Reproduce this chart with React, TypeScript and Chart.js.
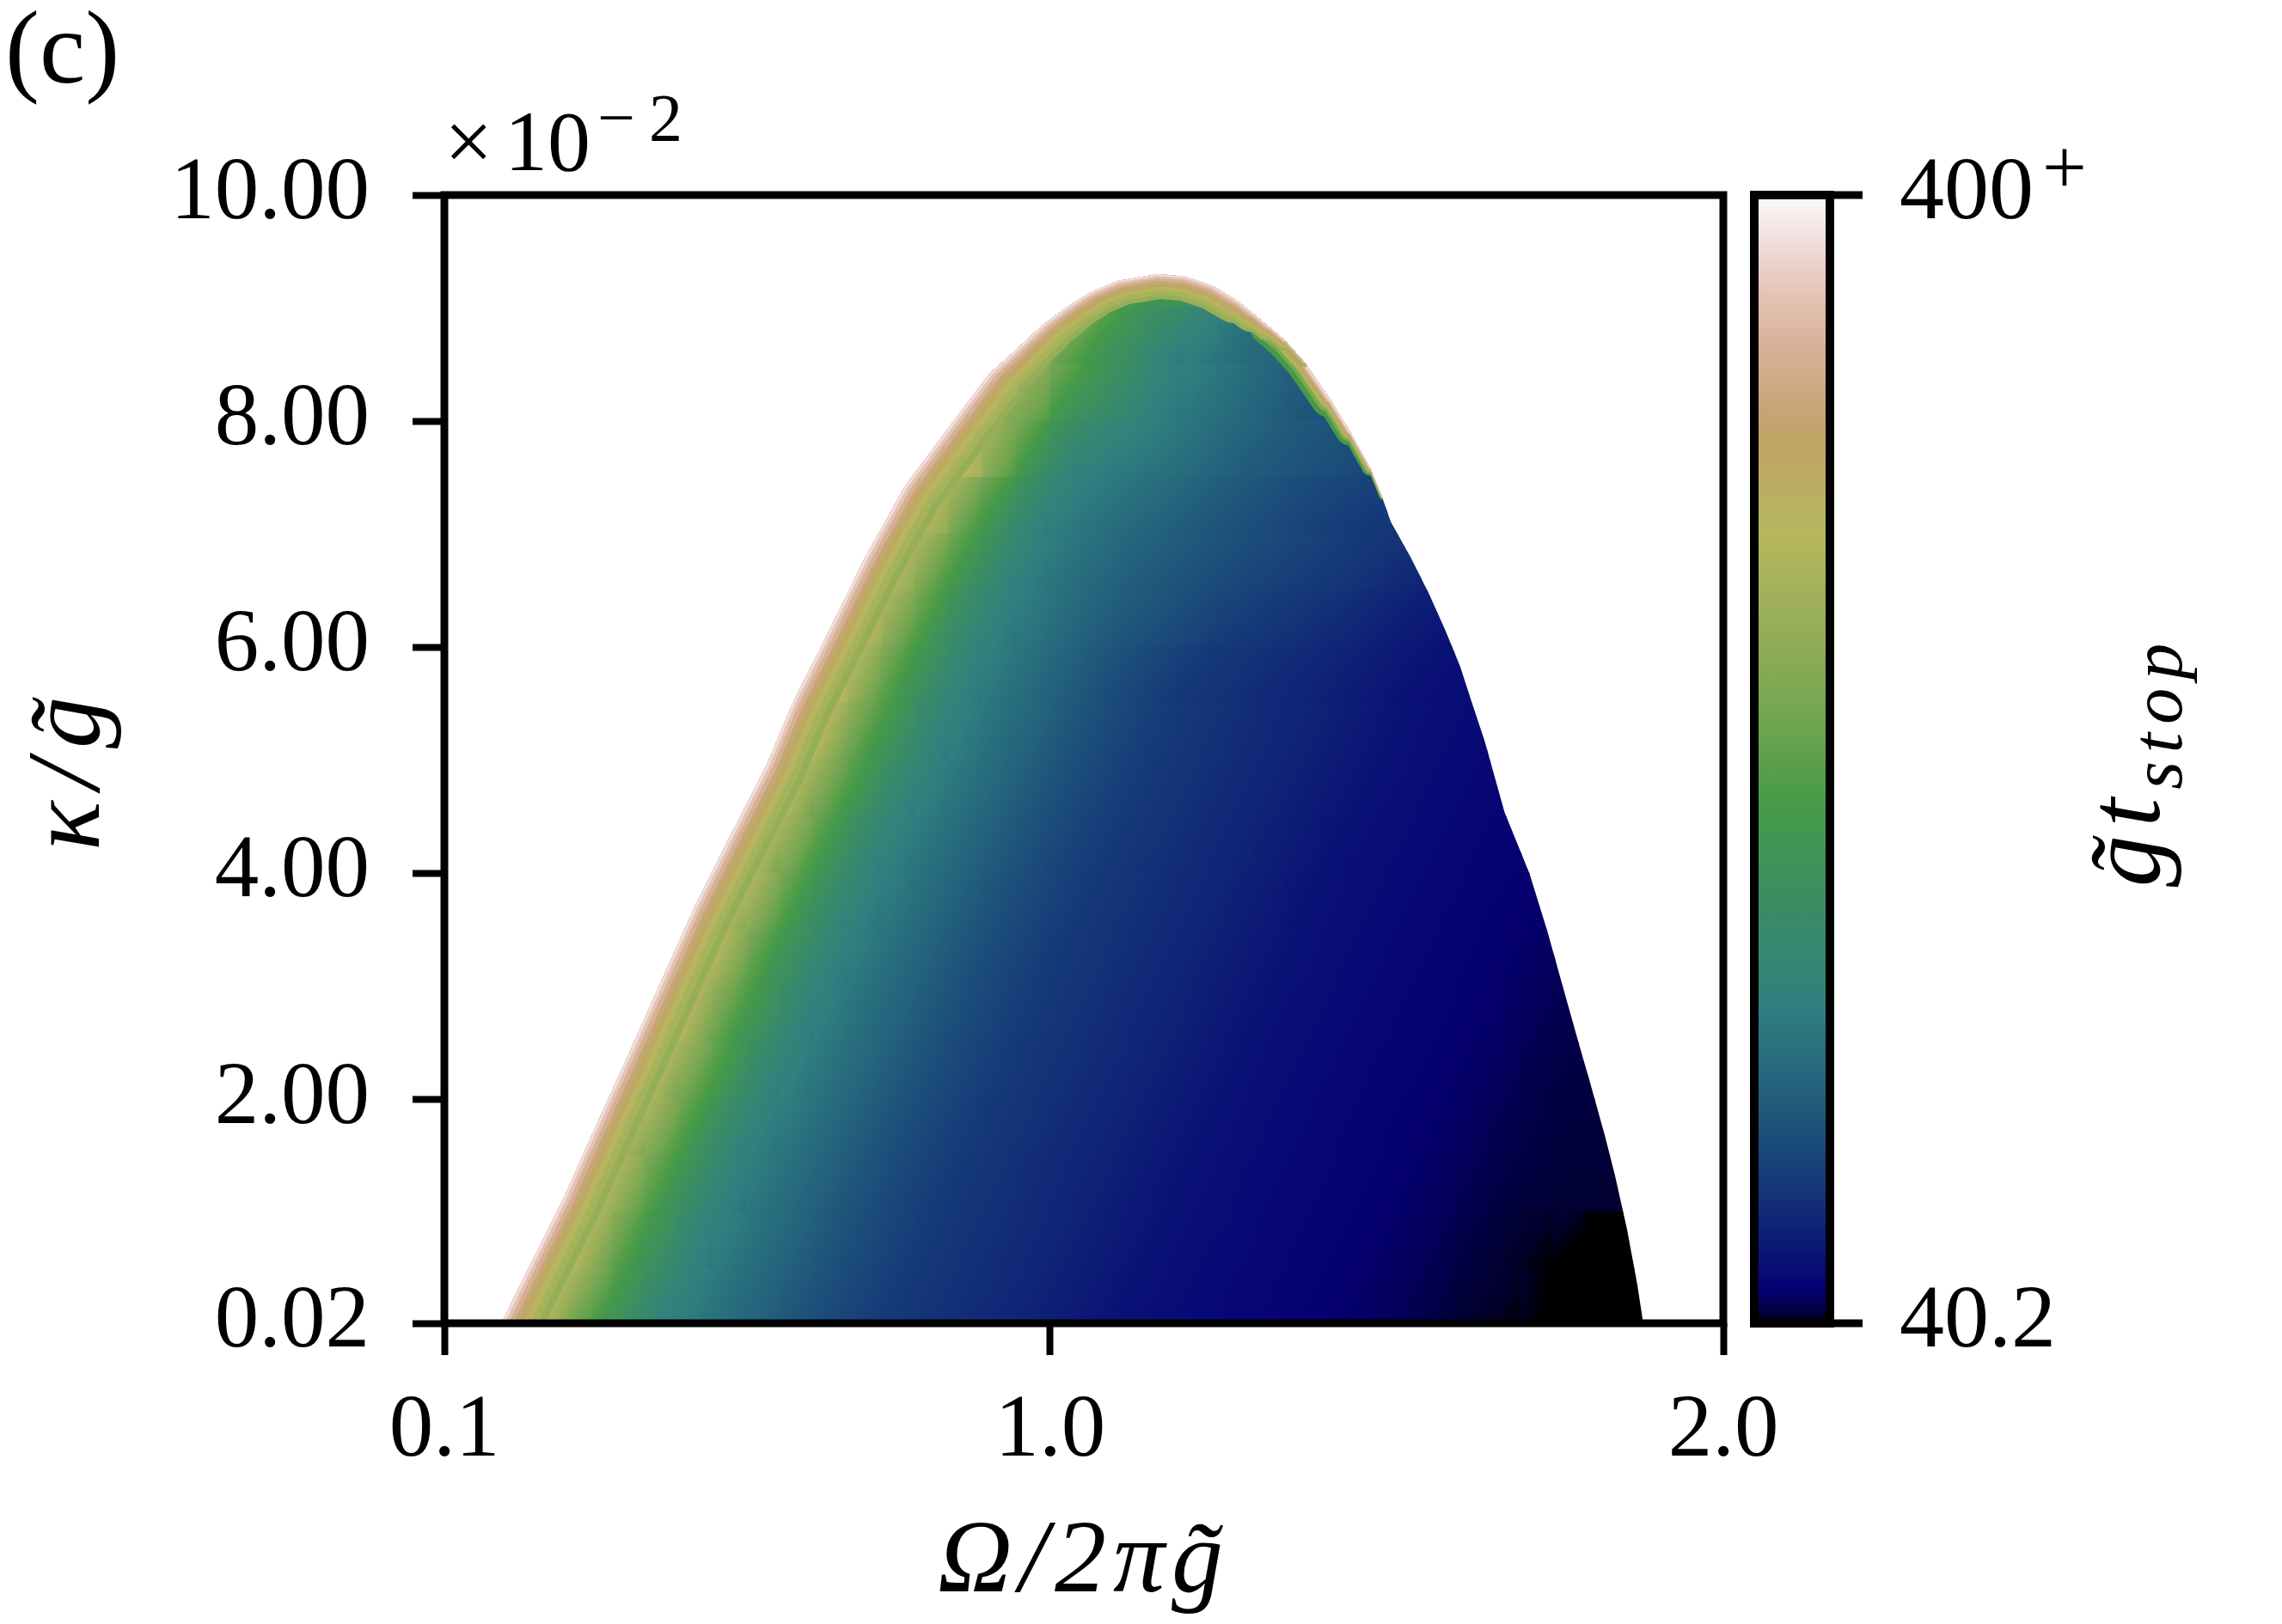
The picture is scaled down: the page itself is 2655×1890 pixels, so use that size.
import React, { useEffect, useRef } from 'react';
import { Chart, registerables } from 'chart.js';

Chart.register(...registerables);

// ---------------- data ----------------
// Ω/2πg̃ cell centres (cells are 0.05 wide)
const omegaCenters = [
  0.125, 0.175, 0.225, 0.275, 0.325, 0.375, 0.425, 0.475, 0.525, 0.575,
  0.625, 0.675, 0.725, 0.775, 0.825, 0.875, 0.925, 0.975, 1.025, 1.075,
  1.125, 1.175, 1.225, 1.275, 1.325, 1.375, 1.425, 1.475, 1.525, 1.575,
  1.625, 1.675, 1.725, 1.775, 1.825, 1.875, 1.925, 1.975,
];
// κ/g̃ (×10⁻²) row edges
const kappaEdges = [0.02, 0.5, 1.0, 1.5, 2.0, 2.5, 3.0, 3.5, 4.0, 4.5, 5.0, 5.5, 6.0, 6.5, 7.0, 7.5, 8.0, 8.5, 9.0, 9.5];
// first Ω column index of every row
const rowStartColumn = [1, 2, 3, 4, 4, 5, 6, 7, 7, 8, 9, 10, 11, 11, 12, 13, 15, 16, 18];

// g̃ t_stop per row (values below 40.2 are drawn black)
const gtStopRow00 = [370, 350, 279, 227, 188, 156, 140, 127, 117, 107, 98.5, 91.7, 86.3, 81.9, 78.3, 75, 71.9, 68.2, 64.1, 60.8, 58.3, 56.4, 54.6, 52.9, 51.5, 50.2, 49.0, 47.3, 45.0, 42.8, 41.5, 40.6, 38, 38, 38];
const gtStopRow01 = [370, 328, 269, 216, 180, 151, 137, 125, 115, 105, 97, 90.5, 85.3, 81.2, 77.6, 74.5, 71.2, 67.4, 63.4, 60.3, 57.9, 56.1, 54.2, 52.7, 51.2, 50.0, 48.7, 46.9, 44.5, 42.6, 41.3, 40.5, 38, 38];
const gtStopRow02 = [360, 309, 256, 207, 171, 146, 133, 122, 112, 103, 95, 89, 84, 80.3, 76.7, 73.7, 70.2, 66.3, 62.4, 59.6, 57.4, 55.6, 53.8, 52.3, 50.8, 49.7, 48.3, 46.5, 44.5, 43.5, 42.8, 42.5];
const gtStopRow03 = [360, 295, 245, 199, 164, 143.5, 131, 120, 110, 101, 93.7, 87.9, 83.1, 79.4, 76, 73, 69.4, 65.4, 61.6, 59.1, 57, 55.2, 53.4, 52, 50.5, 49.4, 47.9, 46, 44.5, 43.5, 43];
const gtStopRow04 = [375, 364, 286, 235, 193, 159, 141.4, 128.8, 118.2, 108.3, 99.6, 92.6, 87, 82.4, 78.8, 75.4, 72.4, 68.7, 64.7, 61.1, 58.5, 56.6, 54.9, 53.1, 51.7, 50.3, 49.1, 47.6, 45.5, 44.5, 44];
const gtStopRow05 = [370, 339, 274, 221, 184, 153.5, 138.5, 125.8, 115.8, 106, 97.7, 91, 85.8, 81.7, 78, 74.7, 71.5, 67.8, 63.8, 60.6, 58.1, 56.2, 54.4, 52.8, 51.4, 50.1, 48.9, 47.1, 45.5];
const gtStopRow06 = [370, 316, 261, 210, 174, 148, 134.6, 123.2, 113.1, 103.6, 95.9, 89.5, 84.5, 80.6, 77, 74, 70.6, 66.7, 62.8, 60.1, 57.6, 55.8, 54, 52.4, 51, 49.8, 48.5, 47.3];
const gtStopRow07 = [370, 302, 251, 203, 167, 145, 132.4, 121.2, 111, 101.8, 94.5, 88.5, 83.6, 79.9, 76.3, 73.4, 69.9, 65.9, 62, 59.4, 57.2, 55.4, 53.6, 52.1, 50.7, 49.6];
const gtStopRow08 = [375, 372, 291, 240, 196, 161, 142.5, 130, 119.2, 109.2, 100.3, 93.2, 87.5, 82.8, 79.2, 75.7, 72.7, 69.1, 65.1, 61.4, 58.9, 56.8, 55.1, 53.3, 51.9, 50.5];
const gtStopRow09 = [370, 360, 284, 232, 191, 158, 141, 128.2, 117.8, 107.9, 99.2, 92.3, 86.8, 82.3, 78.6, 75.3, 72.3, 68.6, 64.5, 61, 58.6, 56.6, 54.8, 53.1];
const gtStopRow10 = [370, 339, 274, 221, 184, 153.5, 138.5, 125.8, 115.8, 106, 97.7, 91, 85.8, 81.7, 78, 74.7, 71.5, 67.8, 63.8, 60.6, 58.1, 56.2, 55.0];
const gtStopRow11 = [365, 316, 261, 210, 174, 148, 134.6, 123.2, 113.1, 103.6, 95.9, 89.5, 84.5, 80.6, 77, 74, 70.6, 66.7, 62.8, 60.1, 57.6];
const gtStopRow12 = [330, 302, 251, 203, 167, 145, 133, 122, 113, 106, 100, 94, 89, 85, 81, 77, 73, 69, 65];
const gtStopRow13 = [350, 330, 294, 243, 198, 163, 143, 131, 122, 114, 108, 103, 98, 94, 90, 86, 82, 78, 75];
const gtStopRow14 = [350, 320, 291, 240, 196, 161, 142.5, 133, 125, 118, 111, 105, 100, 95, 91, 88, 85];
const gtStopRow15 = [340, 310, 290, 248, 201, 165, 150, 140, 132, 124, 116, 110, 105, 101, 98];
const gtStopRow16 = [280, 265, 245, 205, 180, 160, 143, 134, 125, 116, 108, 104];
const gtStopRow17 = [310, 270, 240, 205, 180, 158, 145, 130, 122, 120];
const gtStopRow18 = [300, 260, 215, 208, 220, 280];

const gtStopRows = [
  gtStopRow00, gtStopRow01, gtStopRow02, gtStopRow03, gtStopRow04, gtStopRow05, gtStopRow06,
  gtStopRow07, gtStopRow08, gtStopRow09, gtStopRow10, gtStopRow11, gtStopRow12, gtStopRow13,
  gtStopRow14, gtStopRow15, gtStopRow16, gtStopRow17, gtStopRow18,
];

// outline of the region where data exist
const leftEdgeOmega = [0.185, 0.221, 0.276, 0.324, 0.373, 0.421, 0.470, 0.524, 0.579, 0.617, 0.657, 0.725, 0.785, 0.858, 0.910, 0.949, 0.987, 1.025, 1.060, 1.100, 1.160];
const leftEdgeKappa = [0.02, 0.46, 1.11, 1.75, 2.39, 3.03, 3.68, 4.32, 4.96, 5.50, 5.97, 6.79, 7.43, 8.01, 8.42, 8.63, 8.84, 9.01, 9.14, 9.24, 9.30];
const rightEdgeOmega = [1.200, 1.240, 1.274, 1.300, 1.324, 1.348, 1.378, 1.415, 1.445, 1.475, 1.493, 1.506, 1.536, 1.563, 1.587, 1.609, 1.627, 1.645, 1.654, 1.675, 1.712, 1.739, 1.754, 1.769, 1.787, 1.803, 1.824, 1.839, 1.857, 1.872, 1.881];
const rightEdgeKappa = [9.28, 9.20, 9.08, 8.96, 8.84, 8.72, 8.52, 8.20, 7.91, 7.59, 7.33, 7.11, 6.79, 6.47, 6.15, 5.83, 5.50, 5.18, 4.99, 4.54, 4.00, 3.48, 3.16, 2.84, 2.46, 2.13, 1.68, 1.33, 0.85, 0.37, 0.02];

const xTickValues = [0.1, 1.0, 2.0];
const xTickLabels = ['0.1', '1.0', '2.0'];
const yTickValues = [0.02, 2, 4, 6, 8, 10];
const yTickLabels = ['0.02', '2.00', '4.00', '6.00', '8.00', '10.00'];
const colorMin = 40.2;
const colorMax = 400;
const colorTickLabels = ['40.2', '400'];

// ---------------- colormap (gist_earth) ----------------
const GE_RED = [[0, 0], [0.2824, 0.1882], [0.4588, 0.2714], [0.549, 0.4719], [0.698, 0.7176], [0.7882, 0.7553], [1, 0.9922]];
const GE_GREEN = [[0, 0], [0.0275, 0], [0.1098, 0.1893], [0.1647, 0.3035], [0.2078, 0.3841], [0.2824, 0.502], [0.5216, 0.6397], [0.698, 0.7171], [0.7882, 0.6392], [0.7922, 0.6413], [0.8, 0.6447], [0.8078, 0.6481], [0.8157, 0.6549], [0.8667, 0.6991], [0.8745, 0.7103], [0.8824, 0.7216], [0.8902, 0.7323], [0.898, 0.743], [0.9412, 0.8275], [0.9569, 0.8635], [0.9647, 0.8816], [0.9961, 0.9733], [1, 0.9843]];
const GE_BLUE = [[0, 0], [0.0039, 0.1684], [0.0078, 0.2212], [0.0275, 0.4329], [0.0314, 0.4549], [0.2824, 0.5004], [0.4667, 0.2748], [0.5451, 0.3205], [0.7843, 0.3961], [0.8941, 0.6651], [1, 0.9843]];

function segInterp(tbl: number[][], t: number) {
  for (let i = 1; i < tbl.length; i++) {
    if (t <= tbl[i][0]) {
      const [x0, y0] = tbl[i - 1];
      const [x1, y1] = tbl[i];
      return y0 + ((y1 - y0) * (t - x0)) / (x1 - x0 || 1);
    }
  }
  return tbl[tbl.length - 1][1];
}
function cmap(t: number) {
  const u = Math.max(0, Math.min(1, Number.isFinite(t) ? t : 0));
  const r = Math.round(segInterp(GE_RED, u) * 255);
  const g = Math.round(segInterp(GE_GREEN, u) * 255);
  const b = Math.round(segInterp(GE_BLUE, u) * 255);
  return `rgb(${r},${g},${b})`;
}
function colorForValue(v: number) {
  if (v < colorMin) return 'rgb(0,0,0)';
  return cmap((v - colorMin) / (colorMax - colorMin));
}

function cellValue(r: number, j: number): number | undefined {
  if (r < 0 || r >= gtStopRows.length) return undefined;
  const i = j - rowStartColumn[r];
  const row = gtStopRows[r];
  return i >= 0 && i < row.length ? row[i] : undefined;
}
const rowCenter = (r: number) => (kappaEdges[r] + kappaEdges[r + 1]) / 2;

// monotonised-central slope from the two one-sided slopes
function limitedSlope(a: number | undefined, b: number | undefined) {
  if (a === undefined && b === undefined) return 0;
  if (a === undefined) return b as number;
  if (b === undefined) return a;
  if (a * b <= 0) return 0;
  const c = (a + b) / 2;
  return Math.sign(c) * Math.min(Math.abs(c), 2 * Math.abs(a), 2 * Math.abs(b));
}

// smooth (planar) shading of one cell, like an interpolated image
function cellFill(c: any) {
  const raw = c && c.raw;
  if (!raw || typeof raw.v !== 'number') return 'rgba(0,0,0,0)';
  const { r, j, v } = raw;
  const solid = colorForValue(v);
  const chart = c.chart;
  const xs = chart && chart.scales && chart.scales.x;
  const ys = chart && chart.scales && chart.scales.y;
  if (!xs || !ys) return solid;
  const vl = cellValue(r, j - 1);
  const vr = cellValue(r, j + 1);
  const gx = limitedSlope(
    vl === undefined ? undefined : (v - vl) / (omegaCenters[j] - omegaCenters[j - 1]),
    vr === undefined ? undefined : (vr - v) / (omegaCenters[j + 1] - omegaCenters[j]),
  );
  const vd = cellValue(r - 1, j);
  const vu = cellValue(r + 1, j);
  const gy = limitedSlope(
    vd === undefined ? undefined : (v - vd) / (rowCenter(r) - rowCenter(r - 1)),
    vu === undefined ? undefined : (vu - v) / (rowCenter(r + 1) - rowCenter(r)),
  );
  const ppo = Math.abs(xs.getPixelForValue(1) - xs.getPixelForValue(0));
  const ppk = Math.abs(ys.getPixelForValue(1) - ys.getPixelForValue(0));
  const cx = xs.getPixelForValue(raw.x);
  const cy = ys.getPixelForValue(rowCenter(r));
  if (![gx, gy, ppo, ppk, cx, cy].every(Number.isFinite) || ppo < 1 || ppk < 1) return solid;
  const Gx = gx / ppo;
  const Gy = -gy / ppk;
  const m = Math.hypot(Gx, Gy);
  if (!(m > 1e-6)) return solid;
  const ux = Gx / m;
  const uy = Gy / m;
  const hw = 0.025 * ppo + 2;
  const hh = ((kappaEdges[r + 1] - kappaEdges[r]) / 2) * ppk + 2;
  const L = Math.abs(ux) * hw + Math.abs(uy) * hh;
  const coords = [cx - ux * L, cy - uy * L, cx + ux * L, cy + uy * L];
  if (!coords.every(Number.isFinite)) return solid;
  const g = chart.ctx.createLinearGradient(coords[0], coords[1], coords[2], coords[3]);
  const N = 10;
  for (let s = 0; s <= N; s++) {
    const val = v + m * L * ((2 * s) / N - 1);
    g.addColorStop(s / N, colorForValue(val));
  }
  return g;
}

const SERIF = "'Liberation Serif', 'DejaVu Serif', serif";

// rim layers: [half width px, colormap position]
const leftRimLayers = [[46, 0.62], [38, 0.66], [30, 0.71], [23, 0.76], [17, 0.81], [12, 0.86], [7, 0.91], [3, 0.96]];
const rightRimLayers = [[22, 0.46], [16, 0.56], [12, 0.68], [8, 0.78], [5, 0.87], [2.5, 0.95]];

function strokeRim(ctx: CanvasRenderingContext2D, pts: number[][], layers: number[][], factor: (k: number, side: number) => number) {
  ctx.lineCap = 'round';
  ctx.lineJoin = 'round';
  for (const [hw, t] of layers) {
    ctx.strokeStyle = cmap(t);
    for (let i = 0; i < pts.length - 1; i++) {
      const f = factor((pts[i][2] + pts[i + 1][2]) / 2, pts[i + 1][3]);
      if (f <= 0) continue;
      ctx.lineWidth = 2 * hw * f;
      ctx.beginPath();
      ctx.moveTo(pts[i][0], pts[i][1]);
      ctx.lineTo(pts[i + 1][0], pts[i + 1][1]);
      ctx.stroke();
    }
  }
}

const clamp01 = (x: number) => Math.max(0, Math.min(1, x));

const domePlugin = {
  id: 'domePlugin',
  beforeDatasetsDraw(chart: any) {
    const { ctx, chartArea: ca, scales } = chart;
    const xs = scales.x;
    const ys = scales.y;
    ctx.save();
    ctx.beginPath();
    ctx.rect(ca.left, ca.top, ca.right - ca.left, ca.bottom - ca.top);
    ctx.clip();
    ctx.beginPath();
    leftEdgeOmega.forEach((o, i) => {
      const px = xs.getPixelForValue(o);
      const py = ys.getPixelForValue(leftEdgeKappa[i]);
      if (i === 0) ctx.moveTo(px, py + 30);
      ctx.lineTo(px, py);
    });
    rightEdgeOmega.forEach((o, i) => {
      ctx.lineTo(xs.getPixelForValue(o), ys.getPixelForValue(rightEdgeKappa[i]));
    });
    ctx.lineTo(xs.getPixelForValue(rightEdgeOmega[rightEdgeOmega.length - 1]), ca.bottom + 30);
    ctx.closePath();
    ctx.clip();
  },
  afterDatasetsDraw(chart: any) {
    const { ctx, scales } = chart;
    const xs = scales.x;
    const ys = scales.y;
    const toPx = (o: number, k: number, side: number) => [xs.getPixelForValue(o), ys.getPixelForValue(k), k, side];
    // upper right rim
    const rightPts: number[][] = [];
    for (let i = 1; i <= 10; i++) rightPts.push(toPx(rightEdgeOmega[i], rightEdgeKappa[i], 1));
    strokeRim(ctx, rightPts, rightRimLayers, (k) => Math.min(clamp01((k - 7.33) / (8.3 - 7.33)), clamp01((9.15 - k) / 0.3)));
    // left + top rim
    const leftPts: number[][] = leftEdgeOmega.map((o, i) => toPx(o, leftEdgeKappa[i], 0));
    leftPts.unshift([leftPts[0][0] - 12, leftPts[0][1] + 30, 0, 0]);
    for (let i = 0; i <= 6; i++) leftPts.push(toPx(rightEdgeOmega[i], rightEdgeKappa[i], 1));
    strokeRim(ctx, leftPts, leftRimLayers, (k, side) => {
      if (side === 1) return 0.62 * clamp01((k - 8.5) / (9.15 - 8.5));
      return k < 8.2 ? 1 : 1 - (0.38 * (k - 8.2)) / 1.1;
    });
    ctx.restore();
  },
  afterDraw(chart: any) {
    const { ctx, chartArea: ca } = chart;
    ctx.save();
    // frame
    ctx.strokeStyle = '#000';
    ctx.lineWidth = 9;
    ctx.strokeRect(ca.left, ca.top, ca.right - ca.left, ca.bottom - ca.top);

    // colour bar
    const cbL = ca.right + 36;
    const cbR = ca.right + 124;
    const grad = ctx.createLinearGradient(0, ca.bottom, 0, ca.top);
    for (let i = 0; i <= 100; i++) grad.addColorStop(i / 100, cmap(i / 100));
    ctx.fillStyle = grad;
    ctx.fillRect(cbL, ca.top, cbR - cbL, ca.bottom - ca.top);
    ctx.lineWidth = 10;
    ctx.strokeRect(cbL, ca.top, cbR - cbL, ca.bottom - ca.top);
    ctx.lineWidth = 9;
    ctx.beginPath();
    ctx.moveTo(cbR, ca.top);
    ctx.lineTo(cbR + 38, ca.top);
    ctx.moveTo(cbR, ca.bottom);
    ctx.lineTo(cbR + 38, ca.bottom);
    ctx.stroke();

    ctx.fillStyle = '#000';
    ctx.textAlign = 'left';
    ctx.textBaseline = 'middle';
    ctx.font = `104px ${SERIF}`;
    const labX = cbR + 81;
    ctx.fillText(colorTickLabels[0], labX, ca.bottom);
    ctx.fillText(colorTickLabels[1], labX, ca.top);
    const w400 = ctx.measureText(colorTickLabels[1]).width;
    ctx.textBaseline = 'alphabetic';
    ctx.font = `92px ${SERIF}`;
    ctx.fillText('+', labX + w400 + 10, ca.top - 2);

    // colour bar label
    ctx.save();
    try { (ctx as any).letterSpacing = '10px'; } catch (e) { /* ignore */ }
    ctx.translate(2512, (ca.top + ca.bottom) / 2 + 2);
    ctx.rotate(-Math.PI / 2);
    ctx.font = `italic 120px ${SERIF}`;
    const w1 = ctx.measureText('g\u0303t').width;
    ctx.font = `italic 84px ${SERIF}`;
    const w2 = ctx.measureText('stop').width;
    const start = -(w1 + w2) / 2;
    ctx.font = `italic 120px ${SERIF}`;
    ctx.fillText('g\u0303t', start, 0);
    ctx.font = `italic 84px ${SERIF}`;
    ctx.fillText('stop', start + w1, 26);
    try { (ctx as any).letterSpacing = '0px'; } catch (e) { /* ignore */ }
    ctx.restore();

    // panel label
    ctx.font = `120px ${SERIF}`;
    ctx.fillText('(c)', 6, 96);

    // offset text ×10^-2
    ctx.font = `100px ${SERIF}`;
    ctx.fillText('×', ca.left, 198);
    ctx.fillText('10', ca.left + 70, 198);
    ctx.font = `78px ${SERIF}`;
    ctx.fillText('−', ca.left + 178, 163);
    ctx.fillText('2', ca.left + 238, 163);

    // x title
    ctx.font = `italic 120px ${SERIF}`;
    ctx.textAlign = 'center';
    try { (ctx as any).letterSpacing = '8px'; } catch (e) { /* ignore */ }
    ctx.fillText('Ω/2πg\u0303', (ca.left + ca.right) / 2, 1852);

    // y title
    ctx.save();
    try { (ctx as any).letterSpacing = '14px'; } catch (e) { /* ignore */ }
    ctx.translate(115, (ca.top + ca.bottom) / 2 + 10);
    ctx.rotate(-Math.PI / 2);
    ctx.font = `italic 120px ${SERIF}`;
    ctx.textAlign = 'center';
    ctx.fillText('κ/g\u0303', 0, 0);
    ctx.restore();
    try { (ctx as any).letterSpacing = '0px'; } catch (e) { /* ignore */ }
    ctx.restore();
  },
};

export default function App() {
  const canvasRef = useRef<HTMLCanvasElement>(null);
  useEffect(() => {
    const canvas = canvasRef.current;
    if (!canvas) return;
    const datasets = gtStopRows.map((row, r) => ({
      type: 'bar' as const,
      label: `κ ${kappaEdges[r]}–${kappaEdges[r + 1]}`,
      data: row.map((v, i) => ({
        x: omegaCenters[rowStartColumn[r] + i],
        y: [kappaEdges[r], kappaEdges[r + 1]],
        v,
        r,
        j: rowStartColumn[r] + i,
      })),
      backgroundColor: cellFill,
      borderWidth: 0,
      barPercentage: 1,
      categoryPercentage: 1,
      grouped: false,
      inflateAmount: 1,
    }));

    const tickFont = { family: SERIF, size: 103 };
    const chart = new Chart(canvas, {
      type: 'bar',
      data: { datasets: datasets as any },
      options: {
        animation: false,
        responsive: false,
        devicePixelRatio: 1,
        events: [],
        layout: { padding: { left: 0, right: 650, top: 227, bottom: 0 } },
        plugins: { legend: { display: false }, tooltip: { enabled: false } },
        scales: {
          x: {
            type: 'linear',
            min: 0.1,
            max: 2.0,
            offset: false,
            position: 'bottom',
            afterBuildTicks: (s: any) => {
              s.ticks = xTickValues.map((v) => ({ value: v }));
            },
            afterFit: (s: any) => {
              s.height = 350;
            },
            ticks: {
              autoSkip: false,
              maxRotation: 0,
              minRotation: 0,
              padding: 28,
              color: '#000',
              font: tickFont,
              callback: (_v: any, i: number) => xTickLabels[i],
            },
            grid: { drawOnChartArea: false, drawTicks: true, tickLength: 37, tickWidth: 8, tickColor: '#000', offset: false },
            border: { display: false },
          },
          y: {
            type: 'linear',
            min: 0.02,
            max: 10,
            afterBuildTicks: (s: any) => {
              s.ticks = yTickValues.map((v) => ({ value: v }));
            },
            afterFit: (s: any) => {
              s.width = 517;
            },
            ticks: {
              autoSkip: false,
              padding: 50,
              color: '#000',
              font: tickFont,
              callback: (_v: any, i: number) => yTickLabels[i],
            },
            grid: { drawOnChartArea: false, drawTicks: true, tickLength: 37, tickWidth: 8, tickColor: '#000' },
            border: { display: false },
          },
        },
      } as any,
      plugins: [domePlugin],
    });
    return () => chart.destroy();
  }, []);

  return (
    <div style={{ position: 'absolute', left: 0, top: 0, width: 2655, height: 1890, background: '#fff' }}>
      <canvas ref={canvasRef} width={2655} height={1890} style={{ width: 2655, height: 1890, display: 'block' }} />
    </div>
  );
}
